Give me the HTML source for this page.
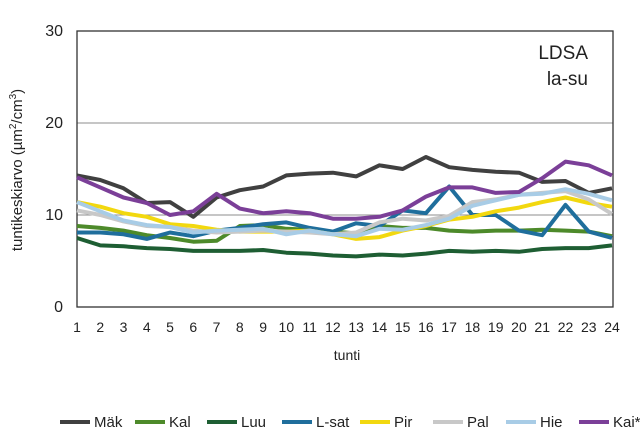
<!DOCTYPE html>
<html><head><meta charset="utf-8"><style>
html,body{margin:0;padding:0;background:#fff}
svg{display:block;font-family:"Liberation Sans",Arial,sans-serif}
</style></head><body>
<svg width="640" height="445" viewBox="0 0 640 445" xmlns="http://www.w3.org/2000/svg">
<rect width="640" height="445" fill="#fff"/>
<line x1="77" y1="215" x2="613" y2="215" stroke="#8c8c8c" stroke-width="1"/>
<line x1="77" y1="123" x2="613" y2="123" stroke="#8c8c8c" stroke-width="1"/>
<rect x="77" y="31" width="536" height="276" fill="none" stroke="#333" stroke-width="1.3"/>
<g font-size="16" fill="#222" text-anchor="end">
<text x="63" y="312">0</text><text x="63" y="220">10</text><text x="63" y="128">20</text><text x="63" y="36">30</text>
</g>
<g font-size="14" fill="#222" text-anchor="middle" id="xl"></g>
<text x="347" y="360" font-size="14" fill="#222" text-anchor="middle">tunti</text>
<text transform="translate(22,170) rotate(-90)" font-size="15" fill="#222" text-anchor="middle">tuntikeskiarvo (µm<tspan font-size="10" dy="-6">2</tspan><tspan dy="6">/cm</tspan><tspan font-size="10" dy="-6">3</tspan><tspan dy="6">)</tspan></text>
<text x="588" y="59" font-size="19" fill="#222" text-anchor="end">LDSA</text>
<text x="588" y="85" font-size="19" fill="#222" text-anchor="end">la-su</text>
<g id="series" fill="none" stroke-width="4" stroke-linejoin="round"></g>
<g id="leg" font-size="15" fill="#222"></g>
</svg>
<script>
var NS="http://www.w3.org/2000/svg";
var xl=document.getElementById('xl');
function X(i){return 77+i*535/23}
function Y(v){return 307-v*9.2}
for(var i=0;i<24;i++){var t=document.createElementNS(NS,'text');t.setAttribute('x',X(i));t.setAttribute('y',332);t.textContent=i+1;xl.appendChild(t);}
var S=[
["Mäk","#404040",[14.3,13.8,12.9,11.3,11.4,9.8,11.9,12.7,13.1,14.3,14.5,14.6,14.2,15.4,15.0,16.3,15.2,14.9,14.7,14.6,13.6,13.7,12.4,12.9]],
["Kal","#4d8a2a",[8.8,8.6,8.3,7.8,7.5,7.1,7.2,8.8,8.9,8.5,8.4,8.2,8.0,8.8,8.6,8.6,8.3,8.2,8.3,8.3,8.4,8.3,8.2,7.7]],
["Luu","#1e5e33",[7.5,6.7,6.6,6.4,6.3,6.1,6.1,6.1,6.2,5.9,5.8,5.6,5.5,5.7,5.6,5.8,6.1,6.0,6.1,6.0,6.3,6.4,6.4,6.7]],
["L-sat","#1f6e9c",[8.1,8.1,7.9,7.4,8.1,7.7,8.3,8.6,9.0,9.2,8.6,8.2,9.1,8.8,10.5,10.2,13.1,10.0,10.0,8.3,7.8,11.1,8.2,7.5]],
["Pir","#f2d80f",[11.4,10.9,10.2,9.8,9.0,8.8,8.4,8.2,8.2,8.2,8.3,7.9,7.4,7.6,8.3,8.8,9.5,9.8,10.4,10.8,11.4,11.9,11.3,10.9]],
["Pal","#c8c8c8",[10.5,10.0,9.3,8.8,8.7,8.3,8.1,8.2,8.3,8.2,8.1,7.9,8.1,9.2,9.6,9.4,9.9,11.4,11.7,12.2,12.4,12.6,11.7,10.1]],
["Hie","#a8cce6",[11.4,10.4,9.4,8.9,8.7,8.1,8.3,8.4,8.5,7.9,8.3,7.9,7.7,8.5,8.4,8.9,9.6,11.0,11.6,12.2,12.3,12.8,12.3,11.6]],
["Kai*","#7b3f98",[14.1,13.0,11.9,11.3,10.0,10.4,12.3,10.7,10.2,10.4,10.2,9.6,9.6,9.8,10.5,12.0,13.0,13.0,12.4,12.5,14.0,15.8,15.4,14.3]]
];
var g=document.getElementById('series'),lg=document.getElementById('leg');
var LX=[60,135,207,282,360,433,506,579];
S.forEach(function(s,k){
 var p=document.createElementNS(NS,'polyline');
 p.setAttribute('points',s[2].map(function(v,i){return X(i).toFixed(1)+','+Y(v).toFixed(1)}).join(' '));
 p.setAttribute('stroke',s[1]);g.appendChild(p);
 var l=document.createElementNS(NS,'line');
 l.setAttribute('x1',LX[k]);l.setAttribute('x2',LX[k]+30);l.setAttribute('y1',422);l.setAttribute('y2',422);
 l.setAttribute('stroke',s[1]);l.setAttribute('stroke-width',4);lg.appendChild(l);
 var t=document.createElementNS(NS,'text');t.setAttribute('x',LX[k]+34);t.setAttribute('y',427);t.textContent=s[0];lg.appendChild(t);
});
</script>
</body></html>
